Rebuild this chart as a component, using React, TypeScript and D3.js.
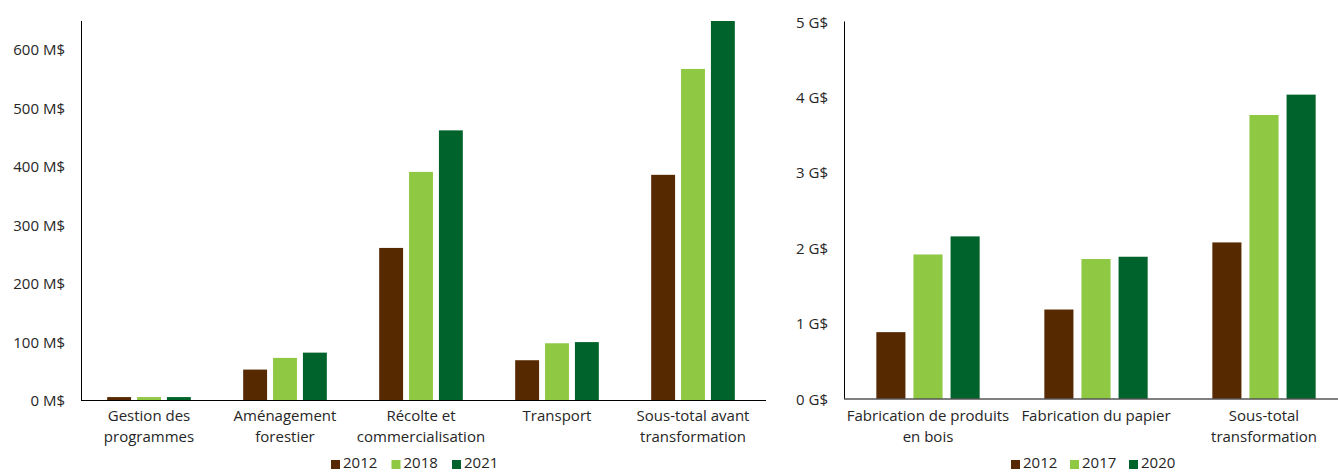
import React from "react";
import * as d3 from "d3";

const leftCategories = [
  ["Gestion des", "programmes"],
  ["Aménagement", "forestier"],
  ["Récolte et", "commercialisation"],
  ["Transport"],
  ["Sous-total avant", "transformation"],
];
const leftYears = ["2012", "2018", "2021"];
const leftValues = [
  [5, 5, 5],
  [52, 72, 81],
  [260, 390, 461],
  [68, 97, 99],
  [385, 566, 648],
];
const leftTicks = [0, 100, 200, 300, 400, 500, 600];

const rightCategories = [
  ["Fabrication de produits", "en bois"],
  ["Fabrication du papier"],
  ["Sous-total", "transformation"],
];
const rightYears = ["2012", "2017", "2020"];
const rightValues = [
  [0.88, 1.91, 2.15],
  [1.18, 1.85, 1.88],
  [2.07, 3.76, 4.03],
];
const rightTicks = [0, 1, 2, 3, 4, 5];

const colors = ["#562900", "#8fc843", "#00632b"];
const FONT = "'Open Sans', sans-serif";
const TEXT = "#262626";
const FS = 15;

type PanelProps = {
  cats: string[][];
  years: string[];
  values: number[][];
  ticks: number[];
  fmt: (v: number) => string;
  x0: number;
  x1: number;
  yBase: number;
  yTop: number;
  yMax: number;
  baseEnd: number;
  legendX: number;
  legendStep: number;
  innerPad: number;
};

function Panel(p: PanelProps) {
  const xb = d3
    .scaleBand<number>()
    .domain(d3.range(p.cats.length))
    .range([p.x0, p.x1])
    .paddingInner(0.385)
    .paddingOuter(0.1925);
  const xi = d3
    .scaleBand<number>()
    .domain(d3.range(p.years.length))
    .range([0, xb.bandwidth()])
    .paddingInner(p.innerPad)
    .paddingOuter(0);
  const y = d3.scaleLinear().domain([0, p.yMax]).range([p.yBase, p.yTop]);
  return (
    <g>
      {p.values.map((row, ci) =>
        row.map((v, si) => (
          <rect
            key={`${ci}-${si}`}
            x={(xb(ci) as number) + (xi(si) as number)}
            y={y(v)}
            width={xi.bandwidth()}
            height={p.yBase - y(v)}
            fill={colors[si]}
          />
        ))
      )}
      <line x1={p.x0 + 0.5} x2={p.x0 + 0.5} y1={p.yTop} y2={p.yBase} stroke="#000" strokeWidth={1} />
      <line x1={p.x0} x2={p.baseEnd} y1={p.yBase + 0.5} y2={p.yBase + 0.5} stroke="#000" strokeWidth={1} />
      {p.ticks.map((t) => (
        <text
          key={t}
          x={p.x0 - 16}
          y={y(t)}
          textAnchor="end"
          dominantBaseline="central"
          fontSize={FS}
          fontFamily={FONT}
          fill={TEXT}
        >
          {p.fmt(t)}
        </text>
      ))}
      {p.cats.map((lines, ci) => (
        <text
          key={ci}
          x={(xb(ci) as number) + xb.bandwidth() / 2}
          y={420.5}
          textAnchor="middle"
          fontSize={FS}
          fontFamily={FONT}
          fill={TEXT}
        >
          {lines.map((l, li) => (
            <tspan key={li} x={(xb(ci) as number) + xb.bandwidth() / 2} dy={li === 0 ? 0 : 21}>
              {l}
            </tspan>
          ))}
        </text>
      ))}
      {p.years.map((yr, i) => (
        <g key={yr} transform={`translate(${p.legendX + i * p.legendStep},0)`}>
          <rect x={0} y={460} width={9} height={9} fill={colors[i]} />
          <text x={12} y={468} fontSize={FS} fontFamily={FONT} fill={TEXT}>
            {yr}
          </text>
        </g>
      ))}
    </g>
  );
}

export default function App() {
  return (
    <svg
      width={1338}
      height={472}
      style={{ position: "absolute", left: 0, top: 0, background: "#fff" }}
    >
      <Panel
        cats={leftCategories}
        years={leftYears}
        values={leftValues}
        ticks={leftTicks}
        fmt={(v) => `${v} M$`}
        x0={81}
        x1={761}
        yBase={400}
        yTop={21}
        yMax={648}
        baseEnd={766}
        legendX={331}
        legendStep={60.5}
        innerPad={0.2}
      />
      <Panel
        cats={rightCategories}
        years={rightYears}
        values={rightValues}
        ticks={rightTicks}
        fmt={(v) => `${v} G$`}
        x0={844}
        x1={1348}
        yBase={398.5}
        yTop={21.5}
        yMax={5}
        baseEnd={1338}
        legendX={1011}
        legendStep={59}
        innerPad={0.216}
      />
    </svg>
  );
}
